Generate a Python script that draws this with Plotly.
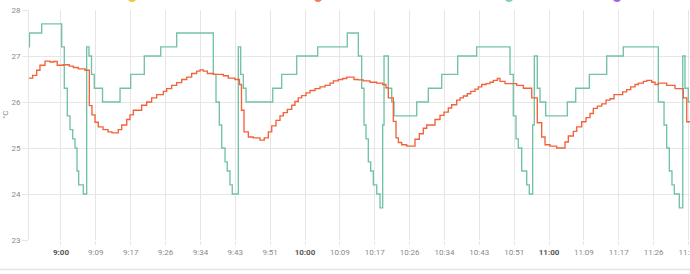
import plotly.graph_objects as go

DAY = "2024-01-01 "

# Target temperature (green step line)
target_times = [
    "08:50:00", "08:52:15", "08:55:15", "09:00:10", "09:00:49", "09:01:33", "09:02:13", "09:02:53",
    "09:03:27", "09:03:56", "09:04:21", "09:05:29", "09:06:19", "09:06:53", "09:07:30", "09:08:11",
    "09:10:13", "09:14:31", "09:17:08", "09:20:29", "09:24:31", "09:28:27", "09:37:27", "09:38:07",
    "09:38:56", "09:39:31", "09:40:20", "09:40:53", "09:41:33", "09:42:07", "09:43:36", "09:44:11",
    "09:44:50", "09:45:30", "09:52:04", "09:54:16", "09:57:58", "10:03:07", "10:10:24", "10:13:07",
    "10:13:56", "10:14:31", "10:15:00", "10:15:34", "10:16:09", "10:16:48", "10:17:38", "10:18:27",
    "10:19:06", "10:19:26", "10:20:29", "10:21:19", "10:21:53", "10:27:28", "10:30:19", "10:33:37",
    "10:37:33", "10:42:13", "10:50:25", "10:51:13", "10:51:53", "10:52:27", "10:53:17", "10:54:31",
    "10:55:09", "10:55:59", "10:56:23", "10:57:07", "10:57:47", "10:59:11", "11:04:30", "11:06:34",
    "11:09:55", "11:14:11", "11:18:16", "11:26:53", "11:28:17", "11:28:56", "11:29:35", "11:30:14",
    "11:30:49", "11:32:02", "11:32:53", "11:33:26", "11:34:15", "11:36:00",
]
target_values = [
    27.2, 27.5, 27.7, 27.2, 26.3, 25.7, 25.4, 25.2,
    25.0, 24.5, 24.2, 24.0, 27.2, 27.0, 26.6, 26.3,
    26.0, 26.3, 26.6, 27.0, 27.2, 27.5, 26.6, 26.0,
    25.5, 25.0, 24.7, 24.5, 24.2, 24.0, 27.2, 26.6,
    26.3, 26.0, 26.3, 26.6, 27.0, 27.2, 27.5, 27.0,
    26.3, 25.5, 25.2, 24.7, 24.5, 24.2, 24.0, 23.7,
    25.5, 27.0, 26.3, 26.0, 25.7, 26.0, 26.3, 26.6,
    27.0, 27.2, 26.6, 25.7, 25.2, 25.0, 24.5, 24.2,
    24.0, 25.5, 27.0, 26.3, 26.0, 25.7, 26.0, 26.3,
    26.6, 27.0, 27.2, 26.0, 25.5, 25.0, 24.5, 24.2,
    24.0, 23.7, 27.0, 26.3, 26.0, 26.0,
]

# Current temperature (orange step line)
current_times = [
    "08:50:00", "08:53:02", "08:54:01", "08:54:50", "08:56:04", "08:57:18", "08:58:07", "08:59:05",
    "09:00:34", "09:02:02", "09:03:02", "09:04:15", "09:05:54", "09:06:58", "09:07:37", "09:08:22",
    "09:09:10", "09:10:20", "09:11:34", "09:12:32", "09:14:05", "09:14:56", "09:16:10", "09:16:58",
    "09:17:47", "09:19:50", "09:21:04", "09:22:18", "09:23:32", "09:25:10", "09:25:59", "09:27:13",
    "09:28:27", "09:29:41", "09:30:55", "09:32:08", "09:33:22", "09:34:11", "09:34:59", "09:35:59",
    "09:37:27", "09:39:55", "09:41:08", "09:42:47", "09:43:53", "09:44:23", "09:45:00", "09:46:04",
    "09:47:17", "09:48:56", "09:49:59", "09:50:59", "09:51:49", "09:52:52", "09:53:51", "09:54:40",
    "09:55:39", "09:56:44", "09:57:32", "09:58:21", "09:59:11", "10:00:15", "10:01:14", "10:02:28",
    "10:03:41", "10:04:55", "10:06:09", "10:06:58", "10:08:11", "10:09:16", "10:10:15", "10:12:03",
    "10:13:07", "10:14:20", "10:15:59", "10:17:38", "10:19:06", "10:19:55", "10:20:29", "10:21:43",
    "10:22:23", "10:22:57", "10:23:47", "10:25:01", "10:27:03", "10:28:07", "10:29:05", "10:29:56",
    "10:31:58", "10:33:12", "10:34:11", "10:35:14", "10:36:04", "10:37:18", "10:38:07", "10:38:56",
    "10:39:55", "10:40:45", "10:41:48", "10:42:37", "10:43:27", "10:44:31", "10:45:29", "10:46:18",
    "10:47:17", "10:47:57", "10:49:11", "10:52:04", "10:53:41", "10:55:45", "10:57:07", "10:58:12",
    "10:59:01", "11:00:15", "11:01:53", "11:03:56", "11:04:45", "11:05:59", "11:06:49", "11:08:02",
    "11:09:06", "11:10:05", "11:10:53", "11:11:53", "11:12:58", "11:14:01", "11:15:00", "11:15:59",
    "11:18:07", "11:19:06", "11:20:05", "11:21:09", "11:21:58", "11:23:11", "11:24:01", "11:25:15",
    "11:26:04", "11:26:53", "11:28:56", "11:30:59", "11:33:01", "11:33:52", "11:36:00",
]
current_values = [
    26.52, 26.58, 26.69, 26.80, 26.89, 26.87, 26.88, 26.80,
    26.81, 26.78, 26.75, 26.72, 26.69, 25.92, 25.72, 25.56,
    25.46, 25.40, 25.35, 25.33, 25.40, 25.50, 25.62, 25.72,
    25.82, 25.93, 26.00, 26.09, 26.16, 26.23, 26.29, 26.36,
    26.42, 26.49, 26.54, 26.62, 26.67, 26.70, 26.67, 26.62,
    26.60, 26.57, 26.52, 26.49, 26.38, 25.82, 25.35, 25.24,
    25.22, 25.17, 25.22, 25.35, 25.48, 25.60, 25.70, 25.77,
    25.84, 25.93, 26.01, 26.09, 26.14, 26.20, 26.25, 26.29,
    26.33, 26.36, 26.41, 26.46, 26.49, 26.51, 26.54, 26.49,
    26.48, 26.46, 26.43, 26.41, 26.38, 26.31, 26.09, 25.58,
    25.22, 25.12, 25.07, 25.04, 25.19, 25.31, 25.43, 25.50,
    25.62, 25.71, 25.78, 25.87, 25.94, 26.04, 26.09, 26.13,
    26.18, 26.23, 26.28, 26.33, 26.38, 26.40, 26.43, 26.47,
    26.51, 26.45, 26.40, 26.36, 26.30, 26.09, 25.55, 25.24,
    25.07, 25.04, 25.00, 25.13, 25.26, 25.36, 25.46, 25.57,
    25.66, 25.75, 25.86, 25.91, 25.96, 26.04, 26.07, 26.16,
    26.22, 26.27, 26.33, 26.38, 26.41, 26.45, 26.47, 26.43,
    26.38, 26.41, 26.36, 26.29, 26.09, 25.57, 25.57,
]

tick_times = [
    "09:00:00", "09:08:34", "09:17:09", "09:25:43", "09:34:17", "09:42:51", "09:51:26",
    "10:00:00", "10:08:34", "10:17:09", "10:25:43", "10:34:17", "10:42:51", "10:51:26",
    "11:00:00", "11:08:34", "11:17:09", "11:25:43", "11:34:17",
]
tick_labels = [
    "9:00", "9:09", "9:17", "9:26", "9:34", "9:43", "9:51",
    "10:00", "10:09", "10:17", "10:26", "10:34", "10:43", "10:51",
    "11:00", "11:09", "11:17", "11:26", "11:34",
]
y_ticks = [23, 24, 25, 26, 27, 28]
x_range = ["08:52:08", "11:34:40"]

legend_colors = ["#f9c23c", "#f57c5a", "#7fd3b0", "#a35ff0"]
legend_px = [132, 318, 509, 617]

GREEN = "#72c3a4"
ORANGE = "#f2623d"
GRID = "#e6e6e6"
TXT = "#8a8a8a"
TXT_BOLD = "#555555"

ticktext = [
    f'<span style="color:{TXT_BOLD}"><b>{t}</b></span>' if t.endswith(":00") else t
    for t in tick_labels
]

fig = go.Figure()
fig.add_trace(go.Scatter(
    x=[DAY + t for t in target_times], y=target_values, mode="lines",
    line=dict(color=GREEN, width=1.35, shape="hv"), name="Target",
))
fig.add_trace(go.Scatter(
    x=[DAY + t for t in current_times], y=current_values, mode="lines",
    line=dict(color=ORANGE, width=1.35, shape="hv"), name="Current",
))

W, H = 690, 274
ML, MR, MT, MB = 29, 0, 10, 34
pw = W - ML - MR
ph = H - MT - MB

shapes = []
for c, px in zip(legend_colors, legend_px):
    shapes.append(dict(
        type="circle", xref="paper", yref="paper",
        xsizemode="pixel", ysizemode="pixel",
        xanchor=(px - ML) / pw, yanchor=1 + (MT + 2.5) / ph,
        x0=-4.5, x1=4.5, y0=-4.5, y1=4.5,
        fillcolor=c, line=dict(width=0), layer="above",
    ))
shapes.append(dict(
    type="line", xref="paper", yref="paper",
    x0=-ML / pw, x1=1.01, y0=-29.5 / ph, y1=-29.5 / ph,
    line=dict(color="#e4e4e4", width=1.5),
))

fig.update_layout(
    width=W, height=H,
    margin=dict(l=ML, r=MR, t=MT, b=MB, pad=0),
    paper_bgcolor="white", plot_bgcolor="white",
    showlegend=False,
    font=dict(family="Roboto", size=8, color=TXT),
    shapes=shapes,
    annotations=[dict(
        text="°C", xref="paper", yref="paper", x=0, y=0.545,
        xanchor="center", yanchor="middle", xshift=-23, textangle=-90,
        showarrow=False, font=dict(size=8, color=TXT),
    )],
)
fig.update_xaxes(
    type="date", range=[DAY + x_range[0], DAY + x_range[1]],
    tickmode="array", tickvals=[DAY + t for t in tick_times], ticktext=ticktext,
    showgrid=True, gridcolor=GRID, gridwidth=1,
    ticks="outside", ticklen=4, tickcolor=GRID,
    showline=False, zeroline=False, automargin=False,
    ticklabeloverflow="allow",
    tickfont=dict(size=8, color=TXT),
)
fig.update_yaxes(
    range=[23, 28], tickvals=y_ticks,
    showgrid=True, gridcolor=GRID, gridwidth=1,
    ticks="outside", ticklen=6, tickcolor=GRID,
    showline=True, linecolor=GRID, linewidth=1,
    zeroline=False, automargin=False,
    tickfont=dict(size=8, color=TXT),
)

fig.write_html("out.html")
